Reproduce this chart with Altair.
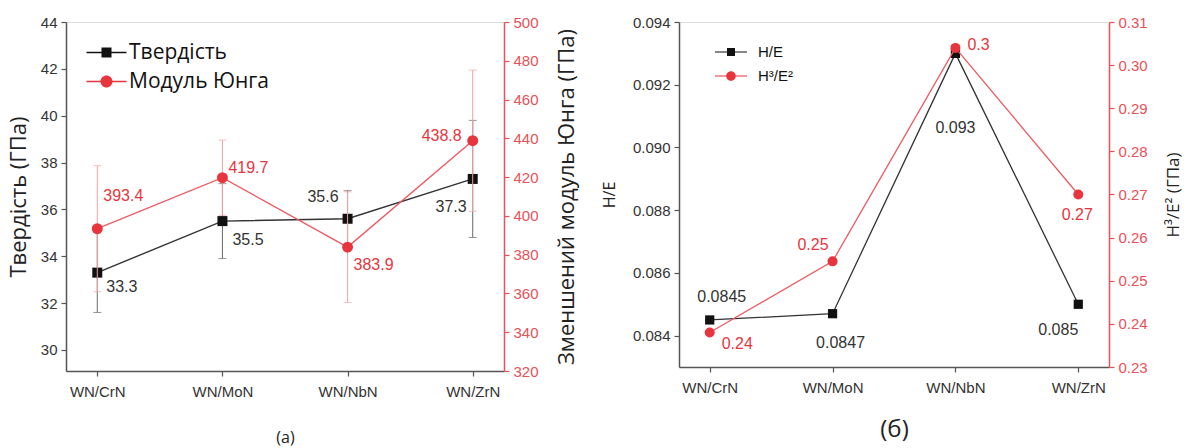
import altair as alt
import pandas as pd

# ---------------- data ----------------
categories = ["WN/CrN", "WN/MoN", "WN/NbN", "WN/ZrN"]

hardness = [33.3, 35.5, 35.6, 37.3]
hardness_err = [1.7, 1.6, 1.2, 2.5]
hardness_labels = ["33.3", "35.5", "35.6", "37.3"]

modulus = [393.4, 419.7, 383.9, 438.8]
modulus_err = [32.5, 19.4, 28.5, 36.4]
modulus_labels = ["393.4", "419.7", "383.9", "438.8"]

he = [0.0845, 0.0847, 0.093, 0.085]
he_labels = ["0.0845", "0.0847", "0.093", "0.085"]

h3e2 = [0.238, 0.2545, 0.304, 0.270]
h3e2_labels = ["0.24", "0.25", "0.3", "0.27"]

legend_a = ["Твердість", "Модуль Юнга"]
legend_b = ["H/E", "H³/E²"]

ticks_h = [30, 32, 34, 36, 38, 40, 42, 44]
ticks_e = [320, 340, 360, 380, 400, 420, 440, 460, 480, 500]
ticks_he = [0.084, 0.086, 0.088, 0.090, 0.092, 0.094]
ticks_h3 = [0.23, 0.24, 0.25, 0.26, 0.27, 0.28, 0.29, 0.30, 0.31]

# ---------------- style ----------------
TICKF = "Liberation Sans"
TITLEF = "Open Sans"
BLACK = "#111111"
LINE_BLACK = "#333333"
RED = "#e8353d"
AXIS_RED = "#ea5058"
LINE_RED = "#ee5a62"
ERR_BLACK = "#6a6a6a"
ERR_RED = "#f3a3a6"
AXIS_GRAY = "#555555"

SQUARE_LEG = "M-2,-0.07H2V0.07H-2Z M-0.5,-0.5H0.5V0.5H-0.5Z"
CIRCLE_LEG = "M-2,-0.07H2V0.07H-2Z M0.6,0A0.6,0.6,0,1,1,-0.6,0A0.6,0.6,0,1,1,0.6,0Z"

df_a = pd.DataFrame({
    "cat": categories,
    "h": hardness,
    "h_lo": [v - e for v, e in zip(hardness, hardness_err)],
    "h_hi": [v + e for v, e in zip(hardness, hardness_err)],
    "h_lbl": hardness_labels,
    "e": modulus,
    "e_lo": [v - e for v, e in zip(modulus, modulus_err)],
    "e_hi": [v + e for v, e in zip(modulus, modulus_err)],
    "e_lbl": modulus_labels,
})

df_b = pd.DataFrame({
    "cat": categories,
    "he": he,
    "he_lbl": he_labels,
    "h3": h3e2,
    "h3_lbl": h3e2_labels,
})


def xenc(title, title_size, title_pad):
    return alt.X(
        "cat:N", sort=categories,
        scale=alt.Scale(type="point", padding=0.25),
        axis=alt.Axis(
            title=title, titleFont=TITLEF, titleFontSize=title_size, titleFontWeight="normal",
            titleColor="#222", titlePadding=title_pad,
            labelAngle=0, labelFont=TICKF, labelFontSize=15, labelColor="#333",
            labelPadding=8, tickSize=5, tickColor=AXIS_GRAY, domainColor=AXIS_GRAY,
            domainWidth=1.5, tickWidth=1.2, grid=False,
        ),
    )


def yaxis_left(title, title_size, fmt, values, title_pad):
    return alt.Axis(
        title=title, titleFont=TITLEF, titleFontSize=title_size, titleFontWeight="normal",
        titleColor="#222", titlePadding=title_pad, values=values, format=fmt,
        labelFont=TICKF, labelFontSize=15, labelColor="#333", labelPadding=4,
        tickSize=5, tickColor=AXIS_GRAY, domainColor=AXIS_GRAY, domainWidth=1.5,
        tickWidth=1.2, grid=False,
    )


def yaxis_right(title, title_size, fmt, values, title_pad):
    return alt.Axis(
        orient="right", title=title, titleFont=TITLEF, titleFontSize=title_size,
        titleFontWeight="normal", titleColor="#222", titlePadding=title_pad,
        titleAngle=270, titleBaseline="top",
        values=values, format=fmt,
        labelFont=TICKF, labelFontSize=15, labelColor=AXIS_RED, labelPadding=4,
        tickSize=5, tickColor=AXIS_RED, domainColor=AXIS_RED, domainWidth=1.5,
        tickWidth=1.2, grid=False,
    )


def labels(df, x, yfield, yscale, yaxis, tfield, offsets, aligns, color, size):
    out = []
    for cat, (dx, dy), al in zip(categories, offsets, aligns):
        out.append(
            alt.Chart(df).transform_filter(alt.datum.cat == cat)
            .mark_text(dx=dx, dy=dy, align=al, baseline="middle", color=color,
                       fontSize=size, font=TICKF)
            .encode(x=x, y=alt.Y(yfield, scale=yscale, axis=yaxis), text=tfield)
        )
    return out


# ---------------- panel (a) ----------------
xa = xenc("(a)", 16, 30)
ys_h = alt.Scale(domain=[29.1, 44], nice=False, zero=False)
ya_h = yaxis_left("Твердість (ГПа)", 22, "d", ticks_h, 10)
ys_e = alt.Scale(domain=[320, 500], nice=False, zero=False)
ya_e = yaxis_right("Зменшений модуль Юнга (ГПа)", 22, "d", ticks_e, 18)

base_a = alt.Chart(df_a)

leg_a_df = pd.DataFrame({"cat": categories[:2], "val": [hardness[0], hardness[1]],
                         "series": legend_a})
leg_a = alt.Legend(title=None, orient="none", legendX=30, legendY=20,
                   symbolOpacity=1, symbolSize=400, labelFont=TITLEF,
                   labelFontSize=21, labelColor="#111", labelOffset=12,
                   rowPadding=7, padding=0, symbolStrokeWidth=0)

left_a = alt.layer(
    base_a.mark_rule(color=ERR_BLACK, strokeWidth=1).encode(
        x=xa, y=alt.Y("h_lo:Q", scale=ys_h, axis=ya_h), y2="h_hi:Q"),
    base_a.mark_tick(color=ERR_BLACK, thickness=1, size=8).encode(
        x=xa, y=alt.Y("h_lo:Q", scale=ys_h, axis=ya_h)),
    base_a.mark_tick(color=ERR_BLACK, thickness=1, size=8).encode(
        x=xa, y=alt.Y("h_hi:Q", scale=ys_h, axis=ya_h)),
    base_a.mark_line(color=LINE_BLACK, strokeWidth=1.4).encode(
        x=xa, y=alt.Y("h:Q", scale=ys_h, axis=ya_h)),
    base_a.mark_point(shape="square", filled=True, size=100, color=BLACK, opacity=1).encode(
        x=xa, y=alt.Y("h:Q", scale=ys_h, axis=ya_h)),
    alt.Chart(leg_a_df).mark_point(filled=True, opacity=0, size=400).encode(
        x=xa, y=alt.Y("val:Q", scale=ys_h, axis=ya_h),
        color=alt.Color("series:N", sort=legend_a,
                        scale=alt.Scale(domain=legend_a, range=[BLACK, RED]), legend=leg_a),
        shape=alt.Shape("series:N", sort=legend_a,
                        scale=alt.Scale(domain=legend_a, range=[SQUARE_LEG, CIRCLE_LEG]),
                        legend=leg_a),
    ),
    *labels(df_a, xa, "h:Q", ys_h, ya_h, "h_lbl:N",
            [(9, 14), (10, 19), (-9, -22), (-6, 28)],
            ["left", "left", "right", "right"], "#333", 16),
)

right_a = alt.layer(
    base_a.mark_rule(color=ERR_RED, strokeWidth=1).encode(
        x=xa, y=alt.Y("e_lo:Q", scale=ys_e, axis=ya_e), y2="e_hi:Q"),
    base_a.mark_tick(color=ERR_RED, thickness=1, size=8).encode(
        x=xa, y=alt.Y("e_lo:Q", scale=ys_e, axis=ya_e)),
    base_a.mark_tick(color=ERR_RED, thickness=1, size=8).encode(
        x=xa, y=alt.Y("e_hi:Q", scale=ys_e, axis=ya_e)),
    base_a.mark_line(color=LINE_RED, strokeWidth=1.4).encode(
        x=xa, y=alt.Y("e:Q", scale=ys_e, axis=ya_e)),
    base_a.mark_point(shape="circle", filled=True, size=120, color=RED, opacity=1).encode(
        x=xa, y=alt.Y("e:Q", scale=ys_e, axis=ya_e)),
    *labels(df_a, xa, "e:Q", ys_e, ya_e, "e_lbl:N",
            [(6, -33), (6, -10), (6, 18), (-11, -5)],
            ["left", "left", "left", "right"], RED, 16),
)

panel_a = alt.layer(left_a, right_a).resolve_scale(y="independent").properties(
    width=438, height=349)

# ---------------- panel (б) ----------------
xb = xenc("(б)", 24, 22)
ys_he = alt.Scale(domain=[0.083, 0.094], nice=False, zero=False)
ya_he = yaxis_left("H/E", 16, ".3f", ticks_he, 15)
ys_h3 = alt.Scale(domain=[0.23, 0.31], nice=False, zero=False)
ya_h3 = yaxis_right("H³/E²  (ГПа)", 17, ".2f", ticks_h3, 18)

base_b = alt.Chart(df_b)
leg_b_df = pd.DataFrame({"cat": categories[:2], "val": [he[0], he[1]], "series": legend_b})

leg_b = alt.Legend(title=None, orient="none", legendX=44, legendY=22, symbolOpacity=1,
                   symbolSize=256, labelFont=TICKF, labelFontSize=15, labelColor="#111",
                   labelOffset=19, rowPadding=8, padding=0, symbolStrokeWidth=0)

left_b = alt.layer(
    base_b.mark_line(color=LINE_BLACK, strokeWidth=1.3).encode(
        x=xb, y=alt.Y("he:Q", scale=ys_he, axis=ya_he)),
    base_b.mark_point(shape="square", filled=True, size=85, color=BLACK, opacity=1).encode(
        x=xb, y=alt.Y("he:Q", scale=ys_he, axis=ya_he)),
    alt.Chart(leg_b_df).mark_point(filled=True, opacity=0, size=256).encode(
        x=xb, y=alt.Y("val:Q", scale=ys_he, axis=ya_he),
        color=alt.Color("series:N", sort=legend_b,
                        scale=alt.Scale(domain=legend_b, range=[BLACK, RED]), legend=leg_b),
        shape=alt.Shape("series:N", sort=legend_b,
                        scale=alt.Scale(domain=legend_b, range=[SQUARE_LEG, CIRCLE_LEG]),
                        legend=leg_b),
    ),
    *labels(df_b, xb, "he:Q", ys_he, ya_he, "he_lbl:N",
            [(12, -23), (8, 29), (0, 75), (-20, 26)],
            ["center", "center", "center", "center"], "#333", 16),
)

right_b = alt.layer(
    base_b.mark_line(color=LINE_RED, strokeWidth=1.3).encode(
        x=xb, y=alt.Y("h3:Q", scale=ys_h3, axis=ya_h3)),
    base_b.mark_point(shape="circle", filled=True, size=100, color=RED, opacity=1).encode(
        x=xb, y=alt.Y("h3:Q", scale=ys_h3, axis=ya_h3)),
    *labels(df_b, xb, "h3:Q", ys_h3, ya_h3, "h3_lbl:N",
            [(12, 11), (-4, -16), (12, -3), (-1, 20)],
            ["left", "right", "left", "center"], RED, 16),
)

panel_b = alt.layer(left_b, right_b).resolve_scale(y="independent").properties(
    width=430, height=345)

chart = alt.hconcat(panel_a, panel_b, spacing=175, bounds="flush").resolve_scale(
    color="independent", shape="independent"
).properties(
    padding={"left": 6, "top": 14, "right": 12, "bottom": 0},
).configure_view(stroke=AXIS_GRAY, strokeWidth=1.5).configure(background="white")

chart.save("out.html", embed_options={"renderer": "svg", "actions": False})
